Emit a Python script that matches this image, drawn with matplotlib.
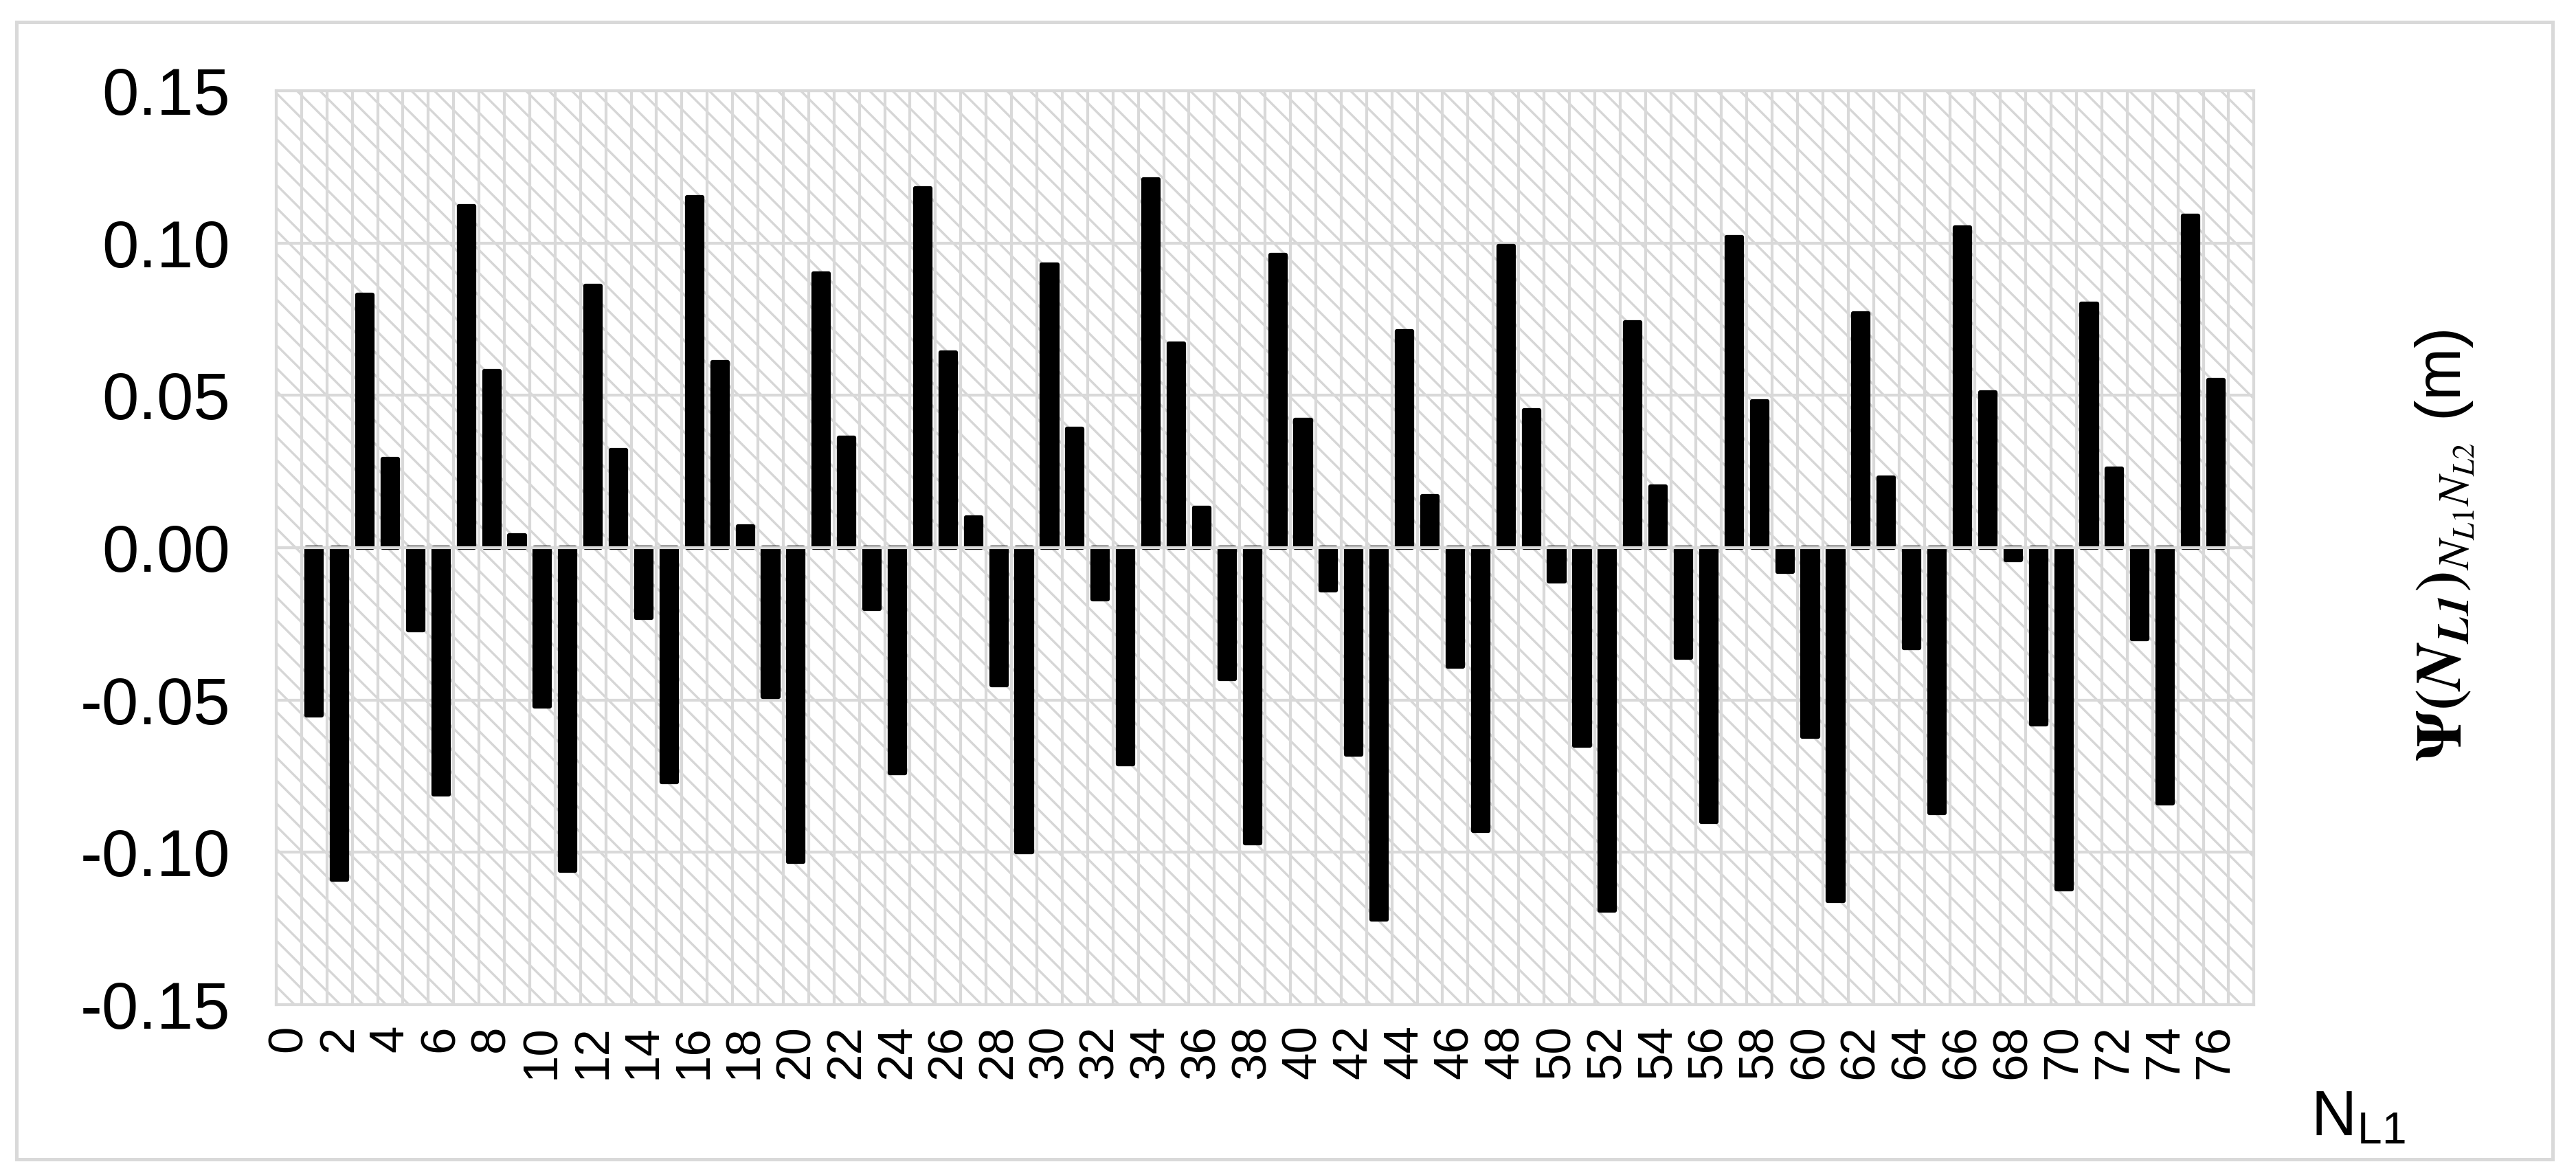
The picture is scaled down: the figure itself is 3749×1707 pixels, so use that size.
import matplotlib
matplotlib.use("Agg")
import matplotlib.pyplot as plt
from matplotlib.patches import Rectangle
import numpy as np

plt.rcParams['font.family'] = ['Liberation Sans', 'DejaVu Sans']
plt.rcParams['axes.unicode_minus'] = False
plt.rcParams['mathtext.fontset'] = 'stix'
plt.rcParams['hatch.linewidth'] = 0.8

# Data: N_L1 from 1 to 76 (categories 0 and 77 are empty)
n_l1 = list(range(1, 77))
psi = [
    -0.055, -0.109, 0.083, 0.029, -0.027, -0.081, 0.112, 0.058, 0.004, -0.052,
    -0.106, 0.086, 0.032, -0.023, -0.077, 0.115, 0.061, 0.007, -0.049, -0.103,
    0.090, 0.036, -0.020, -0.074, 0.118, 0.064, 0.010, -0.045, -0.100, 0.093,
    0.039, -0.017, -0.071, 0.121, 0.067, 0.013, -0.043, -0.097, 0.096, 0.042,
    -0.014, -0.068, -0.122, 0.071, 0.017, -0.039, -0.093, 0.099, 0.045, -0.011,
    -0.065, -0.119, 0.074, 0.020, -0.036, -0.090, 0.102, 0.048, -0.008, -0.062,
    -0.116, 0.077, 0.023, -0.033, -0.087, 0.105, 0.051, -0.004, -0.058, -0.112,
    0.080, 0.026, -0.030, -0.084, 0.109, 0.055,
]
x_tick_values = list(range(0, 77, 2))
x_tick_labels = [str(v) for v in x_tick_values]
y_tick_values = [-0.15, -0.10, -0.05, 0.00, 0.05, 0.10, 0.15]
y_tick_labels = ['-0.15', '-0.10', '-0.05', '0.00', '0.05', '0.10', '0.15']

GRID = '#D9D9D9'

fig = plt.figure(figsize=(3749 / 300, 1707 / 300), dpi=300)
ax = fig.add_axes([0.1072, 0.1435, 0.875 - 0.1072, 0.9227 - 0.1435])

# hatched plot-area background
bg = Rectangle((0, 0), 1, 1, transform=ax.transAxes, facecolor='white',
               edgecolor='#D6D6D6', linewidth=0, hatch='\\\\\\', zorder=0.1)
ax.add_patch(bg)

ax.bar(n_l1, psi, width=0.6, color='black', edgecolor='black',
       linewidth=1.5, joinstyle='round', zorder=2)
ax.axhline(0, color=GRID, linewidth=1.0, zorder=3)

ax.set_xlim(-0.5, 77.5)
ax.set_ylim(-0.15, 0.15)

ax.set_xticks(x_tick_values)
ax.set_xticklabels(x_tick_labels, rotation=90, fontsize=17)
ax.set_xticks(np.arange(-0.5, 78, 1.0), minor=True)
ax.set_yticks(y_tick_values)
ax.set_yticklabels(y_tick_labels, fontsize=23)

ax.set_axisbelow(True)
ax.grid(True, which='minor', axis='x', color=GRID, linewidth=1.0)
ax.grid(True, which='major', axis='y', color=GRID, linewidth=1.0)
ax.grid(False, which='major', axis='x')
ax.tick_params(axis='both', which='both', length=0)
ax.tick_params(axis='y', pad=16)
ax.tick_params(axis='x', pad=7)

for s in ax.spines.values():
    s.set_color(GRID)
    s.set_linewidth(1.0)
    s.set_zorder(3)

# axis titles
fig.text(0.949, 0.535,
         r'$\mathbf{\Psi(}\mathbfit{N}_{\mathbfit{L1}}\mathbf{)}_{\mathit{N_{L1}N_{L2}}}$ (m)',
         rotation=90, ha='center', va='center', fontsize=22)
fig.text(0.897, 0.032, r'N$_{\mathregular{L1}}$', ha='left', va='baseline', fontsize=22)

# outer chart border
fig.patches.append(Rectangle((0.0064, 0.012), 0.991 - 0.0064, 0.981 - 0.012,
                             transform=fig.transFigure, fill=False,
                             edgecolor=GRID, linewidth=1.2))

fig.savefig('out.png', dpi=300, facecolor='white')
